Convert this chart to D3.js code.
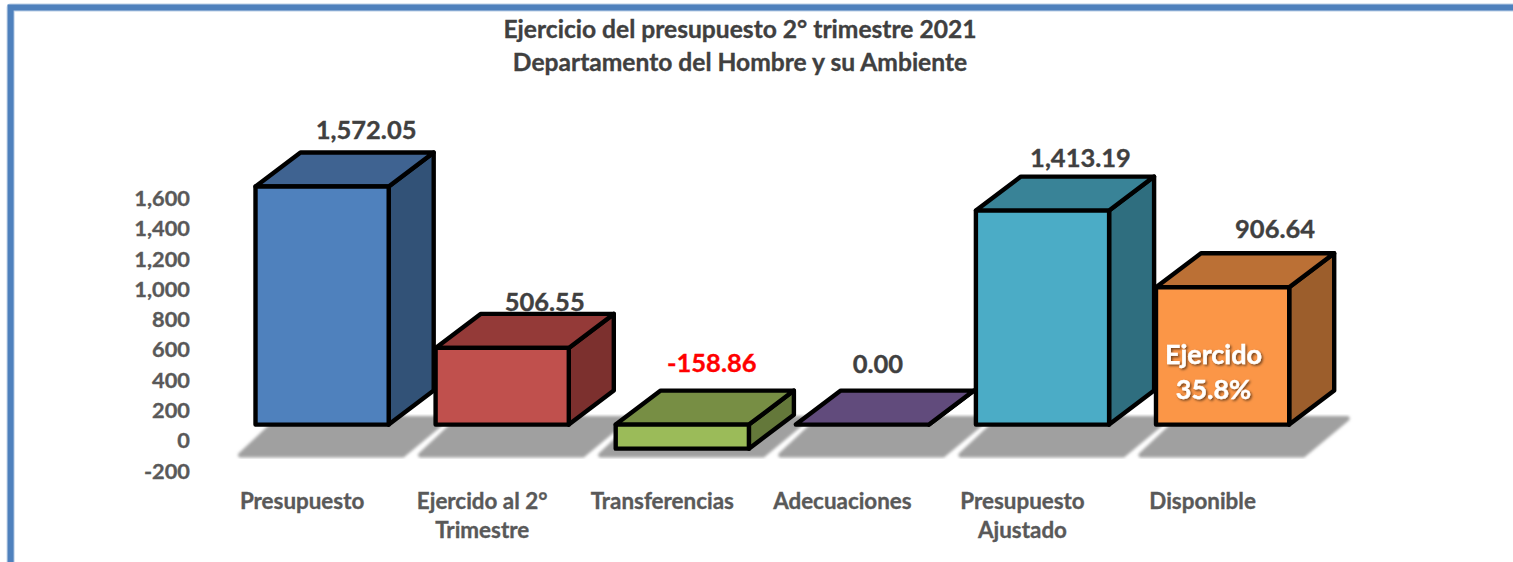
<!DOCTYPE html>
<html>
<head>
<meta charset="utf-8">
<script src="https://cdn.jsdelivr.net/npm/d3@7"></script>
<style>
  html, body { margin: 0; padding: 0; background: #fff; overflow: hidden; }
  text { font-family: Lato, "Open Sans", sans-serif; font-weight: 700; stroke: currentColor; stroke-width: 0.35; }
</style>
</head>
<body>
<script>
var titleLines = ["Ejercicio del presupuesto 2° trimestre 2021", "Departamento del Hombre y su Ambiente"];
var categories = ["Presupuesto", "Ejercido al 2° Trimestre", "Transferencias", "Adecuaciones", "Presupuesto Ajustado", "Disponible"];
var values = [1572.05, 506.55, -158.86, 0, 1413.19, 906.64];
var tickLabels = [-200, 0, 200, 400, 600, 800, 1000, 1200, 1400, 1600];

// category labels wrap by hand, same as the original
var catLines = [["Presupuesto"], ["Ejercido al 2°", "Trimestre"], ["Transferencias"], ["Adecuaciones"], ["Presupuesto", "Ajustado"], ["Disponible"]];

var frontColors = ["#4f81bd", "#c0504d", "#9bbb59", "#8064a2", "#4bacc6", "#fb9647"];
var topColors = ["#3f6391", "#943a38", "#778e44", "#614b7c", "#398397", "#bb7035"];
var sideColors = ["#325277", "#7c302e", "#64783a", "#503f67", "#2f6e7f", "#9c5e2c"];

// hand placed data labels, offset from the bar top
var labelDx = [44, 42.5, 29.5, 15.5, 38, 52.5];
var labelDy = [-47.5, -36.5, -52.5, -51.5, -43.5, -49.5];

var width = 1513, height = 562;
var depth = {x: 45, y: -34};

// the plain d3 format gives a unicode minus, the chart has a hyphen
var locale = d3.formatLocale({decimal: ".", thousands: ",", grouping: [3], currency: ["", ""], minus: "-"});

var svg = d3.select("body").append("svg").attr("width", width).attr("height", height);

var defs = svg.append("defs");
defs.append("filter").attr("id", "blur").attr("x", "-10%").attr("y", "-10%").attr("width", "120%").attr("height", "120%")
  .append("feGaussianBlur").attr("stdDeviation", 1.6);
var glow = defs.append("filter").attr("id", "txtShadow");
glow.append("feDropShadow").attr("dx", 1.5).attr("dy", 1.5).attr("stdDeviation", 1).attr("flood-color", "#000").attr("flood-opacity", 0.55);

// frame, open at the bottom and running off the right edge
var framePath = "M10.6,562V7.4H1513";
svg.append("path").attr("d", framePath)
  .attr("fill", "none").attr("stroke", "#bccfe6").attr("stroke-width", 8).attr("stroke-linejoin", "round");
svg.append("path").attr("d", framePath)
  .attr("fill", "none").attr("stroke", "#4f81bd").attr("stroke-width", 6);

svg.selectAll(".title").data(titleLines).enter().append("text")
  .attr("class", "title")
  .attr("x", 740)
  .attr("y", function(d, i) { return 37.5 + i * 33; })
  .attr("text-anchor", "middle")
  .attr("font-size", 24.6)
  .attr("fill", "#404040")
  .attr("color", "#404040")
  .text(function(d) { return d; });

var x = d3.scaleBand().domain(categories).range([255.5, 1289.2]).paddingInner(0.2604).paddingOuter(0);
var y = d3.scaleLinear().domain([-200, 1600]).range([454.9, 182.3]);

var yAxis = d3.axisLeft(y).tickValues(tickLabels).tickSize(0).tickPadding(0).tickFormat(locale.format(","));
var axisG = svg.append("g").attr("transform", "translate(190,15.5)").call(yAxis);
axisG.select(".domain").remove();
axisG.selectAll("text").attr("font-size", 21.8).attr("fill", "#595959").attr("color", "#595959").attr("dy", "0.35em");

// floor shadows
svg.append("g").selectAll("path").data(categories).enter().append("path")
  .attr("d", function(d) {
    var x0 = x(d), w = x.bandwidth(), b = y(0);
    var p = d3.path();
    p.moveTo(x0 + 24, b - 6);
    p.lineTo(x0 + w + 58, b - 6);
    p.lineTo(x0 + w + 14, b + 30.5);
    p.lineTo(x0 - 15, b + 30.5);
    p.closePath();
    return p.toString();
  })
  .attr("fill", "#a0a0a0")
  .attr("stroke", "#a0a0a0")
  .attr("stroke-width", 5)
  .attr("stroke-linejoin", "round")
  .attr("filter", "url(#blur)");

var bars = svg.append("g").selectAll("g").data(values).enter().append("g");

function topY(v) { return y(Math.max(v, 0)); }
function botY(v) { return y(Math.min(v, 0)); }

function poly(pts) { return d3.line()(pts) + "Z"; }

// side face
bars.append("path")
  .attr("d", function(d, i) {
    var r = x(categories[i]) + x.bandwidth();
    return poly([[r, topY(d)], [r + depth.x, topY(d) + depth.y], [r + depth.x, botY(d) + depth.y], [r, botY(d)]]);
  })
  .attr("fill", function(d, i) { return sideColors[i]; });

// top face
bars.append("path")
  .attr("d", function(d, i) {
    var l = x(categories[i]), r = l + x.bandwidth();
    return poly([[l, topY(d)], [l + depth.x, topY(d) + depth.y], [r + depth.x, topY(d) + depth.y], [r, topY(d)]]);
  })
  .attr("fill", function(d, i) { return topColors[i]; });

// front face
bars.append("rect")
  .attr("x", function(d, i) { return x(categories[i]); })
  .attr("y", function(d) { return topY(d); })
  .attr("width", x.bandwidth())
  .attr("height", function(d) { return botY(d) - topY(d); })
  .attr("fill", function(d, i) { return frontColors[i]; });

bars.selectAll("path, rect")
  .attr("stroke", "#000").attr("stroke-width", 4.4).attr("stroke-linejoin", "round");

// data labels
svg.append("g").selectAll("text").data(values).enter().append("text")
  .attr("x", function(d, i) { return x(categories[i]) + x.bandwidth() / 2 + labelDx[i]; })
  .attr("y", function(d, i) { return topY(d) + labelDy[i]; })
  .attr("text-anchor", "middle")
  .attr("font-size", 25.5)
  .attr("fill", function(d) { return d < 0 ? "#ff0000" : "#404040"; })
  .attr("color", function(d) { return d < 0 ? "#ff0000" : "#404040"; })
  .text(function(d) { return locale.format(",.2f")(d); });

// category labels
var catG = svg.append("g").selectAll("text").data(categories).enter().append("text")
  .attr("text-anchor", "middle")
  .attr("font-size", 22.4)
  .attr("fill", "#595959")
  .attr("color", "#595959");
catG.selectAll("tspan").data(function(d, i) { return catLines[i]; }).enter().append("tspan")
  .attr("x", function() { return x(d3.select(this.parentNode).datum()) + x.bandwidth() / 2 - 20; })
  .attr("y", function(d, i) { return 508.5 + i * 29; })
  .text(function(d) { return d; });

// note on the Disponible bar
var noteX = x("Disponible") + 57.5;
svg.append("g").selectAll("text").data(["Ejercido", "35.8%"]).enter().append("text")
  .attr("x", noteX)
  .attr("y", function(d, i) { return 363.5 + i * 35; })
  .attr("text-anchor", "middle")
  .attr("font-size", 27)
  .attr("fill", "#fff")
  .attr("color", "#fff")
  .attr("filter", "url(#txtShadow)")
  .text(function(d) { return d; });
</script>
</body>
</html>
